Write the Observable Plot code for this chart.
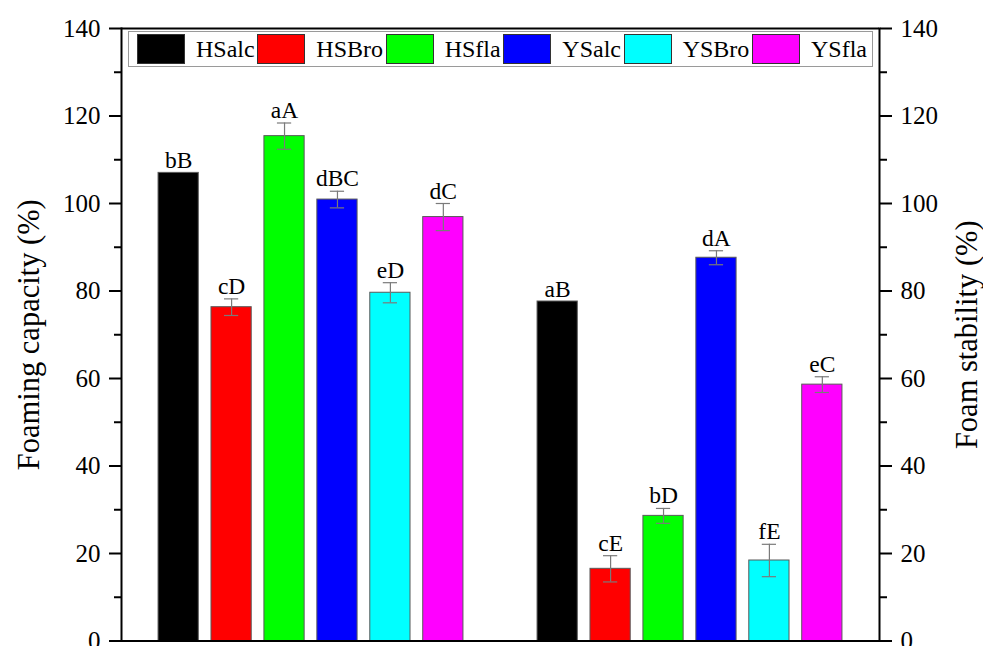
<!DOCTYPE html>
<html>
<head>
<meta charset="utf-8">
<script src="https://cdn.jsdelivr.net/npm/d3@7"></script>
<script src="https://cdn.jsdelivr.net/npm/@observablehq/plot@0.6"></script>
<style>
  body { margin: 0; background: #fff; }
  #chart { position: relative; width: 983px; height: 646px; overflow: hidden; font-family: "Liberation Serif", serif; }
  #chart svg { display: block; }
  #chart svg g[aria-label="y-axis label"] text { font-size: 30.5px; }
  .legend { position: absolute; left: 128px; top: 31px; width: 745px; height: 36px; box-sizing: border-box;
            border: 1px solid #9a9a9a; background: #fff; display: flex; align-items: center;
            justify-content: space-between; padding: 0 5px 0 8px; font-size: 24px; color: #000; }
  .legend .item { display: flex; align-items: center; }
  .legend .sw { width: 48px; height: 30px; box-sizing: border-box; border: 1px solid #333; margin-right: 11px; }
</style>
</head>
<body>
<div id="chart"></div>
<script>
// Two measurements, each shown for six samples
const groups = ["Foaming capacity", "Foam stability"];
const samples = ["HSalc", "HSBro", "HSfla", "YSalc", "YSBro", "YSfla"];
const sampleColors = ["#000000", "#ff0000", "#00ff00", "#0000ff", "#00ffff", "#ff00ff"];

// Foaming capacity (%) — mean, standard deviation, significance letters
const capacityMean = [107.0, 76.3, 115.4, 100.9, 79.6, 96.9];
const capacitySd = [0, 1.9, 3.0, 1.9, 2.3, 3.1];
const capacityLetters = ["bB", "cD", "aA", "dBC", "eD", "dC"];

// Foam stability (%) — mean, standard deviation, significance letters
const stabilityMean = [77.6, 16.5, 28.6, 87.6, 18.4, 58.6];
const stabilitySd = [0, 3.0, 1.7, 1.6, 3.7, 1.8];
const stabilityLetters = ["aB", "cE", "bD", "dA", "fE", "eC"];

// Axis ticks (both axes share the 0–140 range)
const yTicks = [0, 20, 40, 60, 80, 100, 120, 140];
const yMinorTicks = [10, 30, 50, 70, 90, 110, 130];

const rows = [];
samples.forEach((s, i) => rows.push({group: groups[0], sample: s, mean: capacityMean[i], sd: capacitySd[i], letters: capacityLetters[i]}));
samples.forEach((s, i) => rows.push({group: groups[1], sample: s, mean: stabilityMean[i], sd: stabilitySd[i], letters: stabilityLetters[i]}));
const withError = rows.filter(d => d.sd > 0);

const errStroke = "#7a7a7a";

const plot = Plot.plot({
  width: 983,
  height: 646,
  marginLeft: 120,
  marginRight: 104,
  marginTop: 28,
  marginBottom: 5.5,
  style: {fontFamily: '"Liberation Serif", serif', fontSize: "25px", color: "#000", background: "transparent"},
  fx: {domain: groups, padding: 0, round: true, axis: null, label: null},
  x: {domain: samples, paddingInner: 0.24, paddingOuter: 0.7, round: false, axis: null},
  y: {domain: [0, 140], axis: null},
  color: {domain: samples, range: sampleColors},
  marks: [
    Plot.barY(rows, {fx: "group", x: "sample", y: "mean", fill: "sample", stroke: "#5a5a5a", strokeWidth: 1}),
    Plot.ruleX(withError, {fx: "group", x: "sample", y1: d => d.mean - d.sd, y2: d => d.mean + d.sd, stroke: errStroke, strokeWidth: 1.2}),
    Plot.tickY(withError, {fx: "group", x: "sample", y: d => d.mean + d.sd, stroke: errStroke, strokeWidth: 1.2, insetLeft: 13, insetRight: 13}),
    Plot.tickY(withError, {fx: "group", x: "sample", y: d => d.mean - d.sd, stroke: errStroke, strokeWidth: 1.2, insetLeft: 13, insetRight: 13}),
    Plot.text(rows, {fx: "group", x: "sample", y: d => d.mean + d.sd, text: "letters", lineAnchor: "bottom", dy: -5, fontSize: 23.5, fill: "#000"}),
    Plot.ruleY([0, 140], {stroke: "#000", strokeWidth: 2}),
    Plot.frame({anchor: "left", facetAnchor: "left", stroke: "#000", strokeWidth: 2}),
    Plot.frame({anchor: "right", facetAnchor: "right", stroke: "#000", strokeWidth: 2}),
    Plot.axisY({anchor: "left", ticks: yTicks, tickSize: 12, tickPadding: 9, strokeWidth: 2, fontSize: 25,
                label: "Foaming capacity (%)", labelAnchor: "center", labelArrow: "none", labelOffset: 104}),
    Plot.axisY({anchor: "left", ticks: yMinorTicks, tickSize: 7, strokeWidth: 2, text: null, label: null}),
    Plot.axisY({anchor: "right", ticks: yTicks, tickSize: 12, tickPadding: 9, strokeWidth: 2, fontSize: 25,
                label: "Foam stability (%)", labelAnchor: "center", labelArrow: "none", labelOffset: 97}),
    Plot.axisY({anchor: "right", ticks: yMinorTicks, tickSize: 7, strokeWidth: 2, text: null, label: null})
  ]
});

const chart = document.getElementById("chart");
chart.appendChild(plot);

// Legend drawn over the top of the plotting area
const color = plot.scale("color");
const legend = document.createElement("div");
legend.className = "legend";
samples.forEach((s, i) => {
  const item = document.createElement("div");
  item.className = "item";
  const sw = document.createElement("span");
  sw.className = "sw";
  sw.style.background = color.range[i];
  const label = document.createElement("span");
  label.textContent = s;
  item.appendChild(sw);
  item.appendChild(label);
  legend.appendChild(item);
});
chart.appendChild(legend);
</script>
</body>
</html>
